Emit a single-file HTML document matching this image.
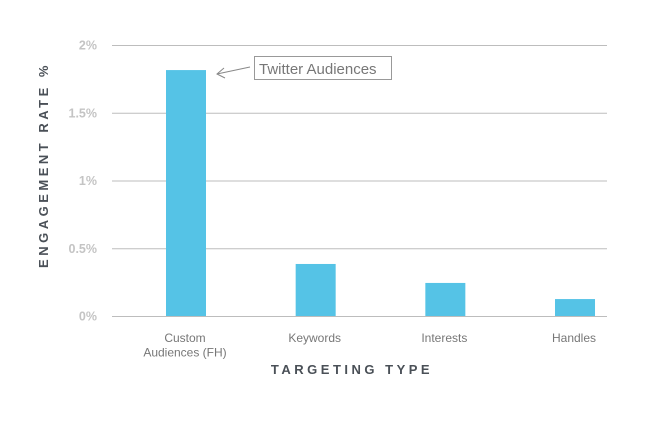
<!DOCTYPE html>
<html><head><meta charset="utf-8"><style>
html,body{margin:0;padding:0;background:#fff;}
svg{display:block;font-family:"Liberation Sans",sans-serif;}
</style></head><body>
<svg id="chart" width="661" height="428">
<g id="grid"></g>
<g id="bars"></g>
<g id="xlabels"></g>
<g id="ylabels"></g>
<text x="352" y="374" text-anchor="middle" font-size="13" font-weight="bold" fill="#4a5057" letter-spacing="3.5">TARGETING TYPE</text>
<text transform="translate(48,165) rotate(-90)" text-anchor="middle" font-size="13" font-weight="bold" fill="#4a5057" letter-spacing="3.5">ENGAGEMENT RATE %</text>
<g>
<rect x="254.5" y="56.5" width="137" height="23" fill="#fff" stroke="#999" stroke-width="1"/>
<text x="259" y="74" font-size="15" fill="#777">Twitter Audiences</text>
<line x1="250" y1="67" x2="217" y2="74" stroke="#888" stroke-width="1"/>
<polyline points="224,68 217,74 225,78" fill="none" stroke="#888" stroke-width="1"/>
</g>
</svg>
<script>
const categories = ["Custom|Audiences (FH)", "Keywords", "Interests", "Handles"];
const values = [1.815, 0.384, 0.244, 0.125];
const yTicks = [0, 0.5, 1, 1.5, 2];
const yTickLabels = ["0%", "0.5%", "1%", "1.5%", "2%"];

const NS = "http://www.w3.org/2000/svg";
const y = v => 316 - v * 135.5;
const x = i => 186 + i * 129.67;
function mk(tag, attrs, parent) {
  const e = document.createElementNS(NS, tag);
  for (const k in attrs) e.setAttribute(k, attrs[k]);
  parent.appendChild(e);
  return e;
}
const grid = document.getElementById("grid");
const ylab = document.getElementById("ylabels");
yTicks.forEach((t, i) => {
  const l = mk("line", {x1: 112, x2: 607, y1: y(t) + 0.5, y2: y(t) + 0.5, stroke: "#bdbdbd", "stroke-width": 1}, grid);
  
  
  const tx = mk("text", {x: 97, y: y(t) + 4.5, "text-anchor": "end", "font-size": 12.5, "font-weight": "bold", fill: "#c4c4c4"}, ylab);
  tx.textContent = yTickLabels[i];
  
  
});
const bars = document.getElementById("bars");
const xl = document.getElementById("xlabels");
values.forEach((v, i) => {
  const r = mk("rect", {x: x(i) - 20, y: y(v), width: 40, height: 316 - y(v), fill: "#55c3e6"}, bars);
  
  
  const lines = categories[i].split("|");
  lines.forEach((s, j) => {
    const t = mk("text", {x: x(i) - 1, y: 342 + j * 14.5, "text-anchor": "middle", "font-size": 12, fill: "#777"}, xl);
    t.textContent = s;
    
    
  });
});
</script>
</body></html>
